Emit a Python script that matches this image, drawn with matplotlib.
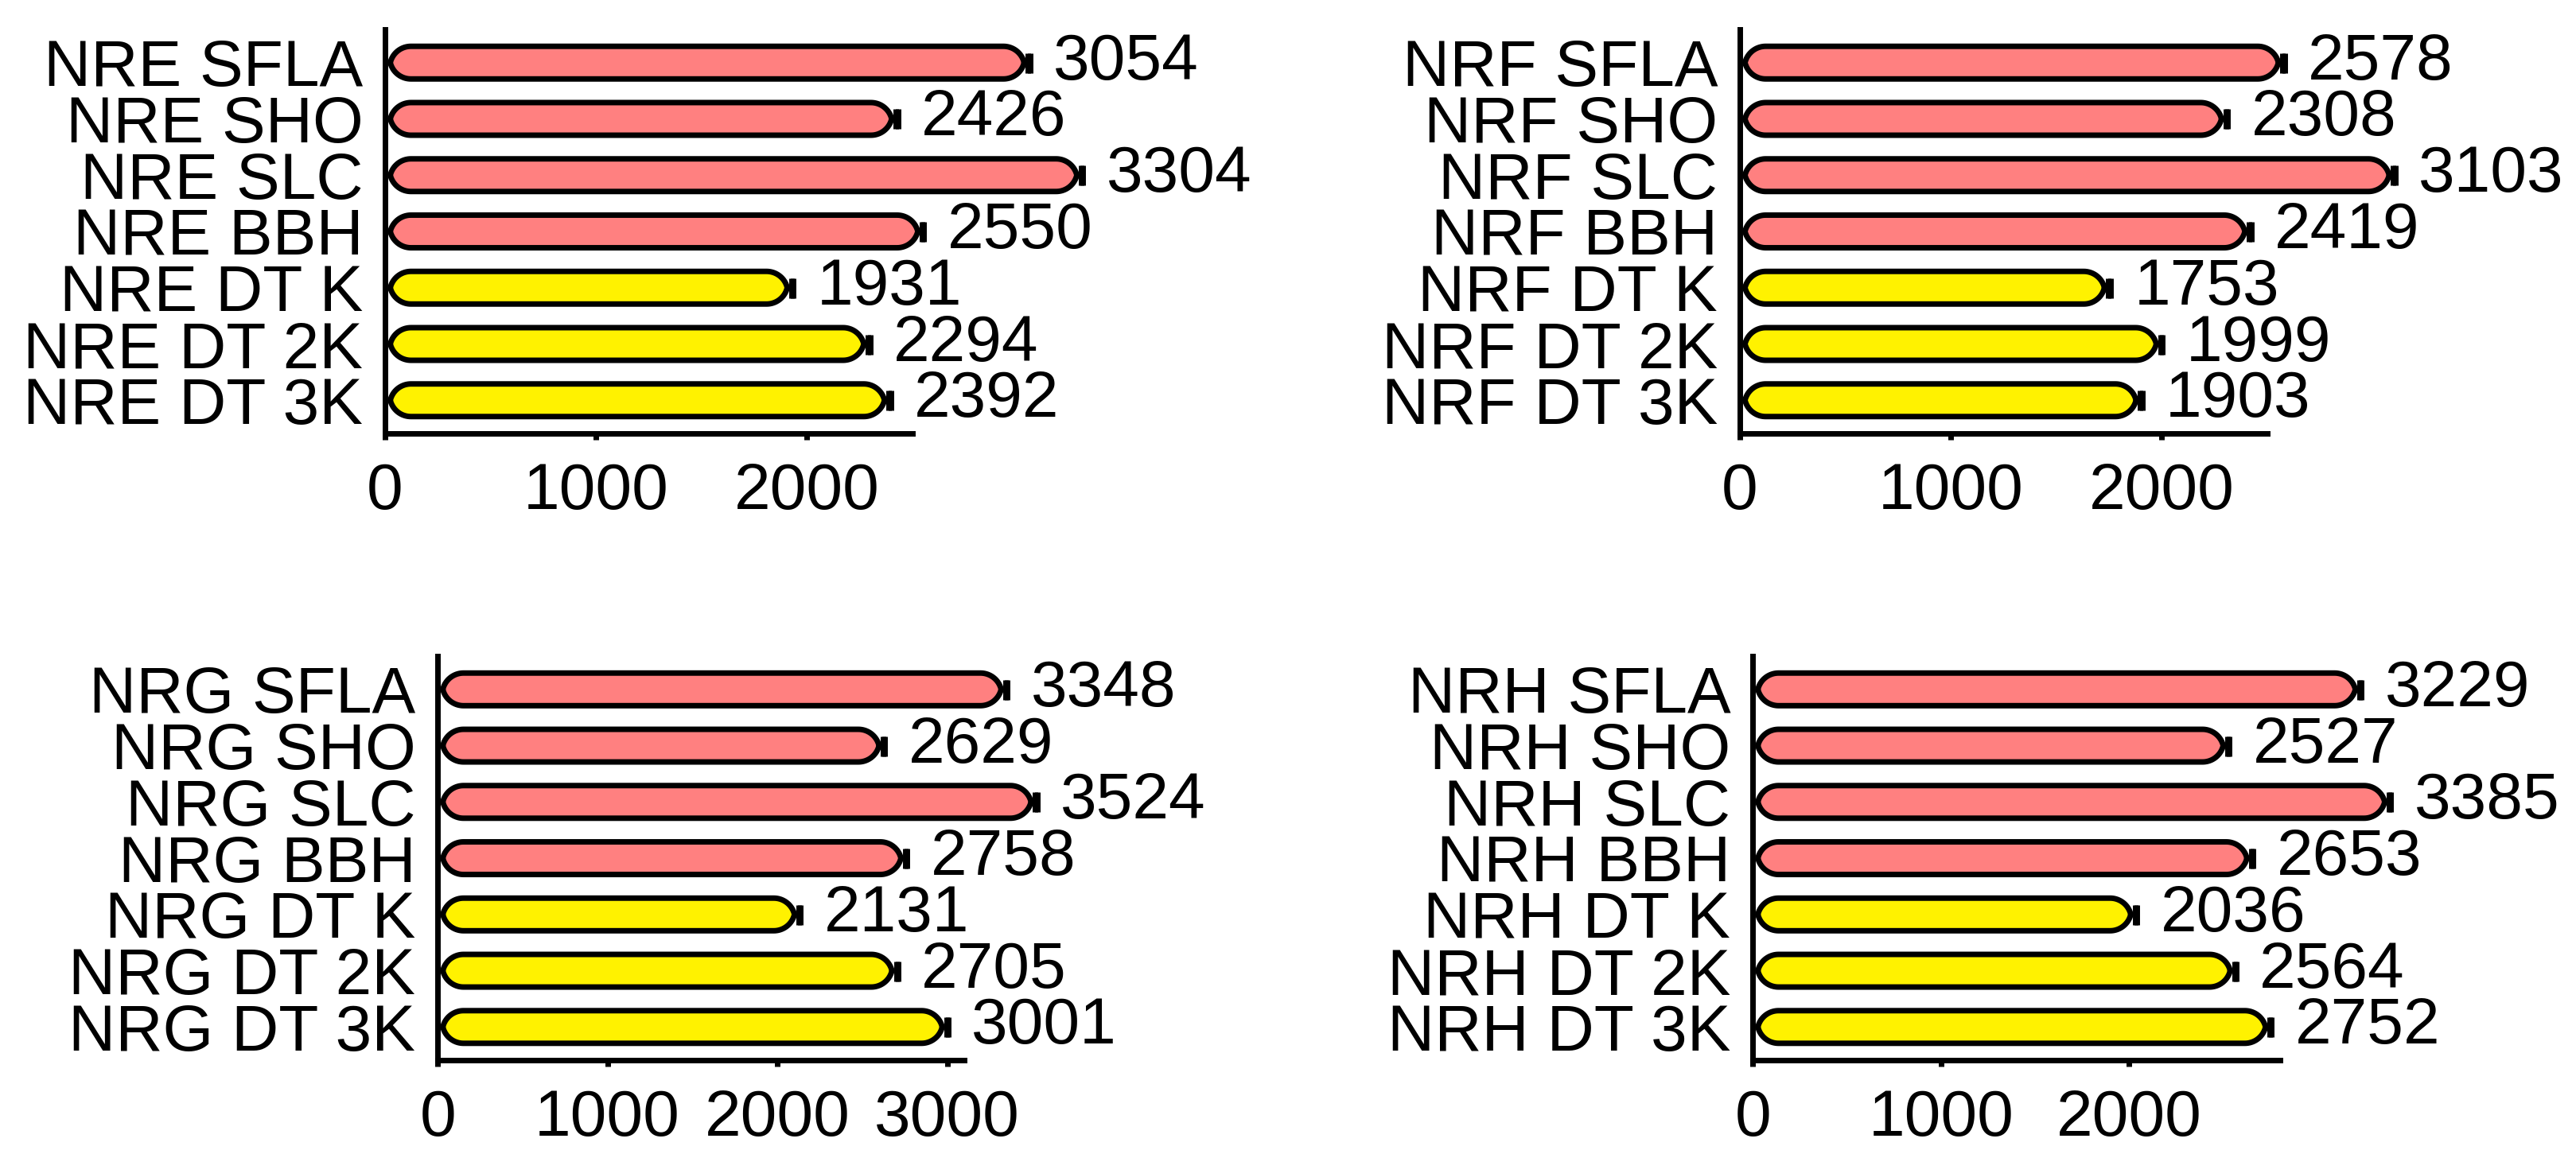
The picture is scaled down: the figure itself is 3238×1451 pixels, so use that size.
import numpy as np
import matplotlib
matplotlib.use("Agg")
import matplotlib.pyplot as plt
from matplotlib.patches import Polygon

plt.rcParams['font.family'] = ['Liberation Sans', 'DejaVu Sans']

# method names, top to bottom in every panel
methods = ["SFLA", "SHO", "SLC", "BBH", "DT K", "DT 2K", "DT 3K"]
prefixes = ["NRE", "NRF", "NRG", "NRH"]

nre = [3054, 2426, 3304, 2550, 1931, 2294, 2392]
nrf = [2578, 2308, 3103, 2419, 1753, 1999, 1903]
nrg = [3348, 2629, 3524, 2758, 2131, 2705, 3001]
nrh = [3229, 2527, 3385, 2653, 2036, 2564, 2752]
errs = [5, 5, 5, 5, 5, 5, 5]

x_max = [2500, 2500, 3100, 2800]
x_ticks = [[0, 1000, 2000], [0, 1000, 2000], [0, 1000, 2000, 3000], [0, 1000, 2000]]

red = "#FF8080"
yellow = "#FFF200"
bar_colors = [red] * 4 + [yellow] * 3

# axes boxes [left, bottom, width, height] in figure fraction
boxes = [[0.1495, 0.6244, 0.2047, 0.3501],
         [0.6754, 0.6244, 0.2047, 0.3501],
         [0.1699, 0.0813, 0.2044, 0.3501],
         [0.6804, 0.0813, 0.2046, 0.3501]]

FS = 59
LW = 5
END_PX = 26     # length of the pointed round end, pixels
INSET_PX = 6.5  # bar body starts/stops a bit inside 0 and the value


def end_curve(hh, L, n=20):
    # circular arc tangent to the top edge, ending at the tip on the midline
    R = (L ** 2 + hh ** 2) / (2 * hh)
    t0 = -np.pi / 2
    t1 = np.arctan2(-(R - hh), L)
    t = np.linspace(t0, t1, n)
    dx = R * np.cos(t)           # 0 .. L
    dy = R + R * np.sin(t)       # 0 .. hh, distance from top edge
    return dx, dy


fig = plt.figure(figsize=(32.38, 14.51), dpi=100)
all_vals = [nre, nrf, nrg, nrh]

for k in range(4):
    vals = all_vals[k]
    ax = fig.add_axes(boxes[k])
    y = np.arange(len(methods))
    ax.set_xlim(0, x_max[k])
    ax.set_ylim(len(methods) - 1 + 0.59, -0.59)

    bars = ax.barh(y, vals, height=0.58, color=bar_colors)

    pos = ax.get_position()
    w_px = pos.width * fig.get_figwidth() * fig.dpi
    h_px = pos.height * fig.get_figheight() * fig.dpi
    xupp = x_max[k] / w_px
    yupp = (len(methods) + 0.18) / h_px

    # redraw each bar as a rod with pointed round ends
    for rect, c in zip(bars.patches, bar_colors):
        x0, y0 = rect.get_x(), rect.get_y()
        w, h = rect.get_width(), rect.get_height()
        rect.set_visible(False)
        hh_px = h / yupp / 2
        dx, dy = end_curve(hh_px, END_PX)
        dx = dx * xupp
        dy = dy * yupp
        xl = x0 + INSET_PX * xupp
        xr = x0 + w - INSET_PX * xupp
        L = END_PX * xupp
        # right end: top half then bottom half
        rx = np.concatenate([xr - L + dx, (xr - L + dx)[::-1]])
        ry = np.concatenate([y0 + dy, (y0 + h - dy)[::-1]])
        # left end: bottom half then top half
        lx = np.concatenate([xl + L - dx, (xl + L - dx)[::-1]])
        ly = np.concatenate([y0 + h - dy, (y0 + dy)[::-1]])
        pts = np.column_stack([np.concatenate([rx, lx]), np.concatenate([ry, ly])])
        ax.add_patch(Polygon(pts, closed=True, facecolor=c, edgecolor="black",
                             linewidth=LW, joinstyle='round', zorder=2, clip_on=False))

    ax.errorbar(vals, y, xerr=errs, fmt='none', ecolor='black',
                elinewidth=LW, capsize=9, capthick=LW, zorder=3, clip_on=False)

    for yi, v in zip(y, vals):
        ax.annotate(str(v), xy=(v, yi), xytext=(22, 0), textcoords='offset points',
                    ha='left', va='center', fontsize=FS, annotation_clip=False)

    ax.set_yticks(y)
    ax.set_yticklabels([prefixes[k] + " " + m for m in methods])
    ax.set_xticks(x_ticks[k])
    ax.tick_params(axis='x', labelsize=FS, width=LW, length=6, pad=20)
    ax.tick_params(axis='y', labelsize=FS, length=0, pad=20)
    ax.spines['top'].set_visible(False)
    ax.spines['right'].set_visible(False)
    ax.spines['left'].set_linewidth(LW)
    ax.spines['bottom'].set_linewidth(LW)
    ax.spines['left'].set_zorder(4)

fig.savefig("out.png", dpi=100)
